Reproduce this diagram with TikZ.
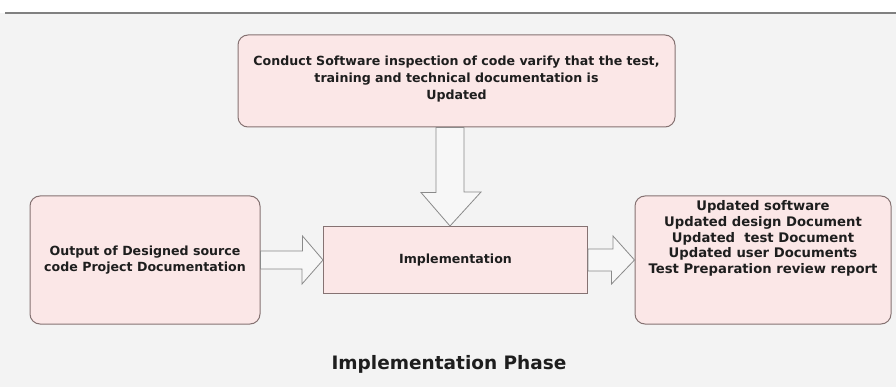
\documentclass[tikz,border=0pt]{standalone}
\usepackage{fontspec}
\setmainfont{DejaVu Sans}
\usetikzlibrary{calc}
\definecolor{boxfill}{HTML}{FBE7E7}
\definecolor{boxline}{HTML}{857272}
\definecolor{bggray}{HTML}{F3F3F3}
\definecolor{txt}{HTML}{1E1E1E}
\definecolor{arrline}{HTML}{8A8A8A}
\definecolor{arrfill}{HTML}{F7F7F7}
\tikzset{
  rbox/.style={draw=boxline, fill=boxfill, rounded corners=10pt, line width=1pt,
    align=center, text=txt, font=\bfseries\fontsize{12.6}{16.8}\selectfont, inner sep=0pt},
  sbox/.style={draw=boxline, fill=boxfill, line width=1pt,
    align=center, text=txt, font=\bfseries\fontsize{12.6}{16}\selectfont, inner sep=0pt},
  barrow/.style={draw=arrline, fill=arrfill, line width=0.8pt, line join=miter},
}
\begin{document}
\begin{tikzpicture}[x=1pt,y=-1pt]
\useasboundingbox (0,0) rectangle (896,387);
\fill[white] (0,0) rectangle (896,13);
\fill[bggray] (0,13) rectangle (896,387);
\draw[gray, line width=1.2pt] (5,13) -- (896,13);

\node[rbox, minimum width=437pt, minimum height=92pt] (top) at (456.5,81)
  {\raisebox{-1pt}[0pt][0pt]{\begin{tabular}{@{}c@{}}Conduct Software inspection of code varify that the test,\\training and technical documentation is\\Updated\end{tabular}}};
\node[rbox, minimum width=230pt, minimum height=128pt] (left) at (145,260)
  {Output of Designed source\\code Project Documentation};
\node[sbox, minimum width=264pt, minimum height=67pt] (impl) at (455.5,260)
  {Implementation};
\node[rbox, minimum width=256pt, minimum height=128pt, font=\bfseries\fontsize{13.2}{15.8}\selectfont] (right) at (763,260)
  {\raisebox{18pt}[0pt][0pt]{\begin{tabular}{@{}c@{}}Updated software\\Updated design Document\\Updated\ \ test Document\\Updated user Documents\\Test Preparation review report\end{tabular}}};
\node[text=txt, font=\bfseries\fontsize{18.5}{20}\selectfont] (title) at (449,364) {Implementation Phase};

% left block arrow
\draw[barrow] ($(left.east)+(0,-9)$) -- ++(42,0) -- ++(0,-15) -- (impl.west)
  -- ($(impl.west)+(-21,24)$) -- ++(0,-15) -- ($(left.east)+(0,9)$) -- cycle;
% right block arrow
\draw[barrow] ($(impl.east)+(0,-11)$) -- ++(25,0) -- ++(0,-13) -- (right.west)
  -- ($(right.west)+(-23,24)$) -- ++(0,-13) -- ($(impl.east)+(0,11)$) -- cycle;
% down block arrow
\coordinate (dt) at ($(top.south)+(-6.5,0)$);
\coordinate (db) at (dt |- impl.north);
\draw[barrow] ($(dt)+(-14,0)$) -- ++(0,65) -- ++(-15,0) -- (db)
  -- ($(db)+(31,-34)$) -- ++(-17,0) -- ($(dt)+(14,0)$) -- cycle;
\end{tikzpicture}
\end{document}
